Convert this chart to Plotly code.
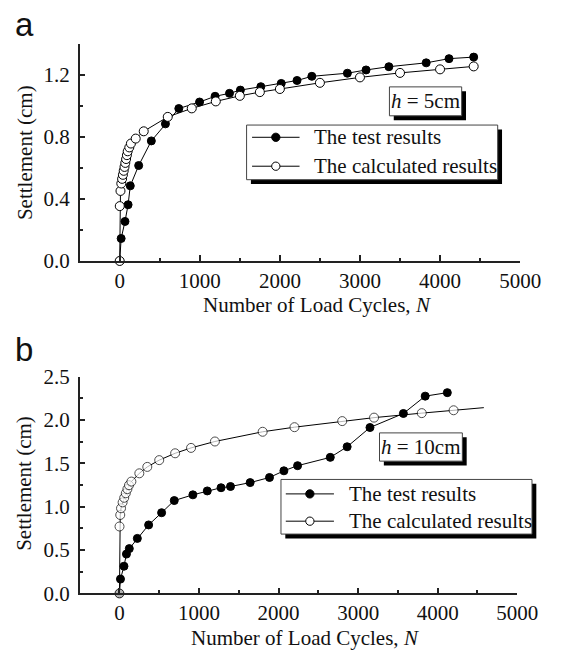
import plotly.graph_objects as go

# ---- data: settlement vs number of load cycles ----
# (a) h = 5 cm
test_a_n = [0, 18, 66, 105, 132, 237, 395, 571, 738, 997, 1191, 1371, 1507, 1762,
            2017, 2214, 2399, 2843, 3076, 3361, 3827, 4112, 4420]
test_a_s = [0.0, 0.145, 0.255, 0.363, 0.485, 0.616, 0.775, 0.885, 0.984, 1.026, 1.063,
            1.082, 1.103, 1.125, 1.146, 1.165, 1.192, 1.212, 1.233, 1.254, 1.279, 1.306, 1.316]
calc_a_n = [0, 1, 10, 20, 30, 40, 50, 60, 70, 80, 90, 100, 120, 140, 200, 300, 600, 900,
            1200, 1500, 1750, 2000, 2500, 3000, 3500, 4000, 4420]
calc_a_s = [0.0, 0.354, 0.452, 0.500, 0.530, 0.556, 0.582, 0.607, 0.633, 0.658, 0.683,
            0.708, 0.733, 0.758, 0.790, 0.837, 0.930, 0.985, 1.030, 1.066, 1.090, 1.110,
            1.150, 1.185, 1.214, 1.237, 1.256]

# (b) h = 10 cm
test_b_n = [0, 13, 57, 88, 124, 225, 367, 530, 689, 923, 1104, 1277, 1396, 1643, 1886,
            2067, 2239, 2650, 2862, 3149, 3569, 3843, 4121]
test_b_s = [0.0, 0.166, 0.314, 0.454, 0.517, 0.635, 0.790, 0.931, 1.071, 1.137, 1.182,
            1.219, 1.233, 1.278, 1.337, 1.414, 1.473, 1.569, 1.691, 1.913, 2.075, 2.275, 2.315]
calc_b_n = [0, 1, 10, 20, 40, 60, 80, 100, 120, 150, 250, 350, 500, 700, 900, 1200,
            1800, 2200, 2800, 3200, 3800, 4200, 4580]
calc_b_s = [0.0, 0.772, 0.905, 0.982, 1.050, 1.103, 1.155, 1.203, 1.248, 1.290, 1.385,
            1.459, 1.537, 1.616, 1.678, 1.752, 1.864, 1.917, 1.987, 2.027, 2.079, 2.112, 2.142]
# the calculated curve for (b) runs on past its last marker
calc_b_marker = [9] * (len(calc_b_n) - 1) + [0]

x_ticks = [0, 1000, 2000, 3000, 4000, 5000]
legend_labels = ["The test results", "The calculated results"]

W, H = 571, 663
SERIF = "Liberation Serif"
FS = 21


def px(x):
    return x / W


def py(y):
    return 1 - y / H


fig = go.Figure()

filled = dict(symbol="circle", size=8, color="black", line=dict(color="black", width=1))
hollow = dict(symbol="circle", size=9, color="white", line=dict(color="black", width=1))

fig.add_trace(go.Scatter(x=test_a_n, y=test_a_s, mode="lines+markers", marker=filled,
                         line=dict(color="black", width=1), cliponaxis=False,
                         xaxis="x", yaxis="y", showlegend=False))
fig.add_trace(go.Scatter(x=calc_a_n, y=calc_a_s, mode="lines+markers", marker=hollow,
                         line=dict(color="black", width=1), cliponaxis=False,
                         xaxis="x", yaxis="y", showlegend=False))
fig.add_trace(go.Scatter(x=test_b_n, y=test_b_s, mode="lines+markers", marker=filled,
                         line=dict(color="black", width=1), cliponaxis=False,
                         xaxis="x2", yaxis="y2", showlegend=False))
fig.add_trace(go.Scatter(x=calc_b_n, y=calc_b_s, mode="lines+markers",
                         marker=dict(hollow, size=calc_b_marker),
                         line=dict(color="black", width=1), cliponaxis=False,
                         xaxis="x2", yaxis="y2", showlegend=False))

axis_common = dict(
    showline=True, linecolor="#222", linewidth=1.5, mirror=False,
    ticks="inside", ticklen=6, tickwidth=1.5, tickcolor="#222",
    showgrid=False, zeroline=False,
    tickfont=dict(family=SERIF, size=FS, color="#111"),
)

xa = dict(axis_common, range=[-500, 5000], tickvals=x_ticks,
          minor=dict(ticks="inside", ticklen=3.5, tickwidth=1.5, tickcolor="#222", dtick=500, tick0=0))

fig.update_layout(
    width=W, height=H,
    margin=dict(l=0, r=0, t=0, b=0),
    paper_bgcolor="white", plot_bgcolor="white",
    xaxis=dict(xa, domain=[px(82.7), px(540)], anchor="y"),
    yaxis=dict(axis_common, domain=[py(258.3), py(33.3)], anchor="x", range=[0, 1.4],
               tick0=0, dtick=0.4, tickformat=".1f", ticklabelstandoff=4,
               minor=dict(ticks="inside", ticklen=3.5, tickwidth=1.5, tickcolor="#222", dtick=0.2, tick0=0)),
    xaxis2=dict(xa, domain=[px(82.7), px(537)], anchor="y2"),
    yaxis2=dict(axis_common, domain=[py(603.3), py(378.3)], anchor="x2", range=[0, 2.5],
                tick0=0, dtick=0.5, tickformat=".1f", ticklabelstandoff=4,
                minor=dict(ticks="inside", ticklen=3.5, tickwidth=1.5, tickcolor="#222", dtick=0.25, tick0=0)),
    showlegend=False,
)

shapes = []
annotations = []


def shadow_box(x0, y0, x1, y1, off=4.5):
    shapes.append(dict(type="rect", xref="paper", yref="paper",
                       x0=px(x0 + off), x1=px(x1 + off), y0=py(y1 + off), y1=py(y0 + off),
                       fillcolor="black", line=dict(width=0)))
    shapes.append(dict(type="rect", xref="paper", yref="paper",
                       x0=px(x0), x1=px(x1), y0=py(y1), y1=py(y0),
                       fillcolor="white", line=dict(color="#444", width=1)))


def legend_block(x0, y0, x1, y1, lx0, lx1, rows, tx):
    shadow_box(x0, y0, x1, y1)
    for (ry, fill), label in zip(rows, legend_labels):
        shapes.append(dict(type="line", xref="paper", yref="paper",
                           x0=px(lx0), x1=px(lx1), y0=py(ry), y1=py(ry),
                           line=dict(color="black", width=1)))
        mx = (lx0 + lx1) / 2
        r = 4.3
        shapes.append(dict(type="circle", xref="paper", yref="paper",
                           x0=px(mx - r), x1=px(mx + r), y0=py(ry + r), y1=py(ry - r),
                           fillcolor=fill, line=dict(color="black", width=1)))
        annotations.append(dict(xref="paper", yref="paper", x=px(tx), y=py(ry),
                                xanchor="left", yanchor="middle", showarrow=False,
                                text=label, font=dict(family=SERIF, size=FS, color="#111")))


def h_label(x0, y0, x1, y1, text):
    shadow_box(x0, y0, x1, y1)
    annotations.append(dict(xref="paper", yref="paper", x=px((x0 + x1) / 2), y=py((y0 + y1) / 2),
                            xanchor="center", yanchor="middle", showarrow=False,
                            text=text, font=dict(family=SERIF, size=FS, color="#111")))


# panel (a) decorations
h_label(404.3, 77.7, 479.3, 107.7, "<i>h</i> = 5cm")
legend_block(256, 117.3, 516.7, 174, 261.7, 311, [(130, "black"), (160, "white")], 324)
# panel (b) decorations
h_label(394, 436.7, 480, 466, "<i>h</i> = 10cm")
legend_block(291.7, 485, 552.3, 541.7, 296.7, 346.7, [(500, "black"), (528.3, "white")], 360)

# axis titles
for xc, yc in [(329.6, 304.5), (317, 649)]:
    annotations.append(dict(xref="paper", yref="paper", x=px(xc), y=py(yc),
                            xanchor="center", yanchor="middle", showarrow=False,
                            text="Number of Load Cycles, <i>N</i>",
                            font=dict(family=SERIF, size=FS, color="#111")))
for yc in [145.8, 489]:
    annotations.append(dict(xref="paper", yref="paper", x=px(25.5), y=py(yc),
                            xanchor="center", yanchor="middle", showarrow=False, textangle=-90,
                            text="Settlement (cm)",
                            font=dict(family=SERIF, size=FS, color="#111")))

# panel letters
for letter, yc in [("a", 13), ("b", 350)]:
    annotations.append(dict(xref="paper", yref="paper", x=px(13), y=py(yc),
                            xanchor="left", yanchor="middle", showarrow=False,
                            text=letter, font=dict(family="Liberation Sans", size=33, color="#111")))

fig.update_layout(shapes=shapes, annotations=annotations)
fig.write_html("out.html")
